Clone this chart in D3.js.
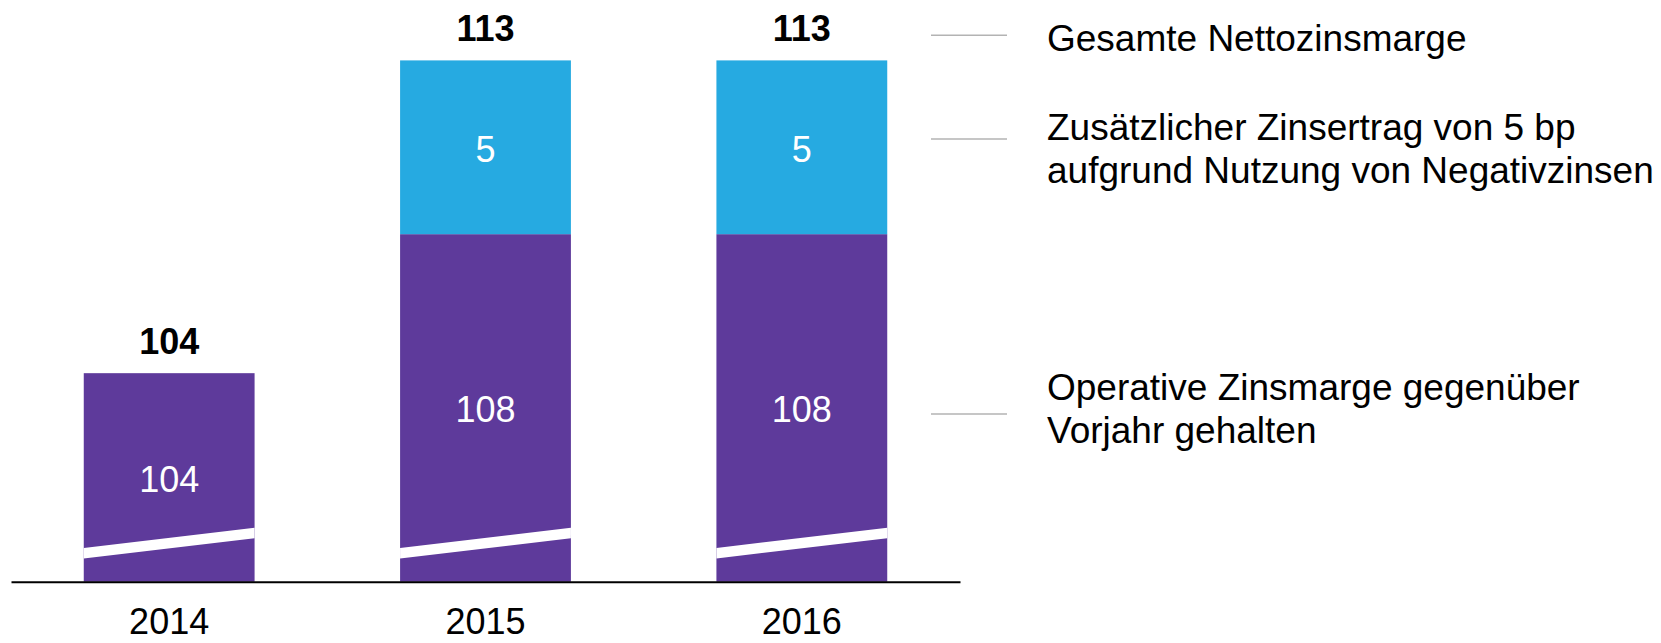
<!DOCTYPE html>
<html>
<head>
<meta charset="utf-8">
<script src="https://cdn.jsdelivr.net/npm/d3@7"></script>
<style>
  html, body { margin: 0; padding: 0; background: #fff; }
  svg text { font-family: "Liberation Sans", Arial, sans-serif; }
</style>
</head>
<body>
<svg width="1661" height="643"></svg>
<script>
// data
var years = ["2014", "2015", "2016"];
var operative = [104, 108, 108];   // Operative Zinsmarge
var negativ = [0, 5, 5];           // Zusätzlicher Zinsertrag
var totals = [104, 113, 113];      // Gesamte Nettozinsmarge
var axisBase = 98;                 // axis is broken, bars start here

var legendLabels = [
  ["Gesamte Nettozinsmarge"],
  ["Zusätzlicher Zinsertrag von 5 bp", "aufgrund Nutzung von Negativzinsen"],
  ["Operative Zinsmarge gegenüber", "Vorjahr gehalten"]
];

var svg = d3.select("svg"),
    width = +svg.attr("width"),
    height = +svg.attr("height");

var colors = { operative: "#5e3a9b", negativ: "#26aae1" };

var x = d3.scaleBand()
    .domain(years)
    .range([11, 960])
    .paddingInner(0.46)
    .paddingOuter(0.23);

var y = d3.scaleLinear()
    .domain([axisBase, 113])
    .range([581.7, 60.4])
    .clamp(true);

var table = years.map((yr, i) => ({
  year: yr, operative: operative[i], negativ: negativ[i], total: totals[i]
}));

var stack = d3.stack().keys(["operative", "negativ"]);
var series = stack(table);

var g = svg.append("g");

var layer = g.selectAll("g.layer")
  .data(series)
  .enter().append("g")
    .attr("class", "layer")
    .attr("fill", d => colors[d.key]);

layer.selectAll("rect")
  .data(d => d.filter(s => s[1] > s[0]))
  .enter().append("rect")
    .attr("x", d => x(d.data.year))
    .attr("y", d => y(d[1]))
    .attr("width", x.bandwidth())
    .attr("height", d => y(d[0]) - y(d[1]));

// axis break: white slanted band across each bar
var base = y(axisBase);
g.selectAll("path.brk")
  .data(years)
  .enter().append("path")
    .attr("class", "brk")
    .attr("fill", "#fff")
    .attr("d", d => {
      var x0 = x(d), x1 = x(d) + x.bandwidth();
      return "M" + x0 + "," + (base - 33.8) + "L" + x1 + "," + (base - 54) +
        "L" + x1 + "," + (base - 43.4) + "L" + x0 + "," + (base - 23.2) + "Z";
    });

// segment labels
layer.selectAll("text")
  .data(d => d.filter(s => s[1] > s[0]))
  .enter().append("text")
    .attr("x", d => x(d.data.year) + x.bandwidth() / 2)
    .attr("y", d => (y(d[0]) + y(d[1])) / 2 + 14.5)
    .attr("text-anchor", "middle")
    .attr("fill", "#fff")
    .attr("font-size", 36)
    .text(d => d[1] - (d[0] < axisBase ? 0 : d[0]));

// totals on top
g.selectAll("text.total")
  .data(table)
  .enter().append("text")
    .attr("class", "total")
    .attr("x", d => x(d.year) + x.bandwidth() / 2)
    .attr("y", d => y(d.total) - 19)
    .attr("text-anchor", "middle")
    .attr("font-size", 36)
    .attr("font-weight", "bold")
    .attr("fill", "#000")
    .text(d => d.total);

// x axis
var xAxis = g.append("g")
    .attr("transform", "translate(0," + base + ")")
    .call(d3.axisBottom(x).tickSize(0).tickPadding(27));
xAxis.select(".domain").attr("stroke", "#000").attr("stroke-width", 2);
xAxis.selectAll("text")
    .attr("font-size", 36)
    .attr("fill", "#000")
    .style("font-family", "'Liberation Sans', Arial, sans-serif");

// legend
var legendY = [35.3, 139, 414];
var legendBase = [50.5, 139.5, 400];
var leg = svg.append("g").selectAll("g")
  .data(legendLabels)
  .enter().append("g");

leg.append("line")
    .attr("x1", 931).attr("x2", 1007)
    .attr("y1", (d, i) => legendY[i]).attr("y2", (d, i) => legendY[i])
    .attr("stroke", "#b3b3b3")
    .attr("stroke-width", 1.6);

leg.append("text")
    .attr("x", 1047)
    .attr("y", (d, i) => legendBase[i])
    .attr("font-size", 37)
    .attr("fill", "#000")
  .selectAll("tspan")
  .data(d => d)
  .enter().append("tspan")
    .attr("x", 1047)
    .attr("dy", (d, i) => i ? 43 : 0)
    .text(d => d);
</script>
</body>
</html>
